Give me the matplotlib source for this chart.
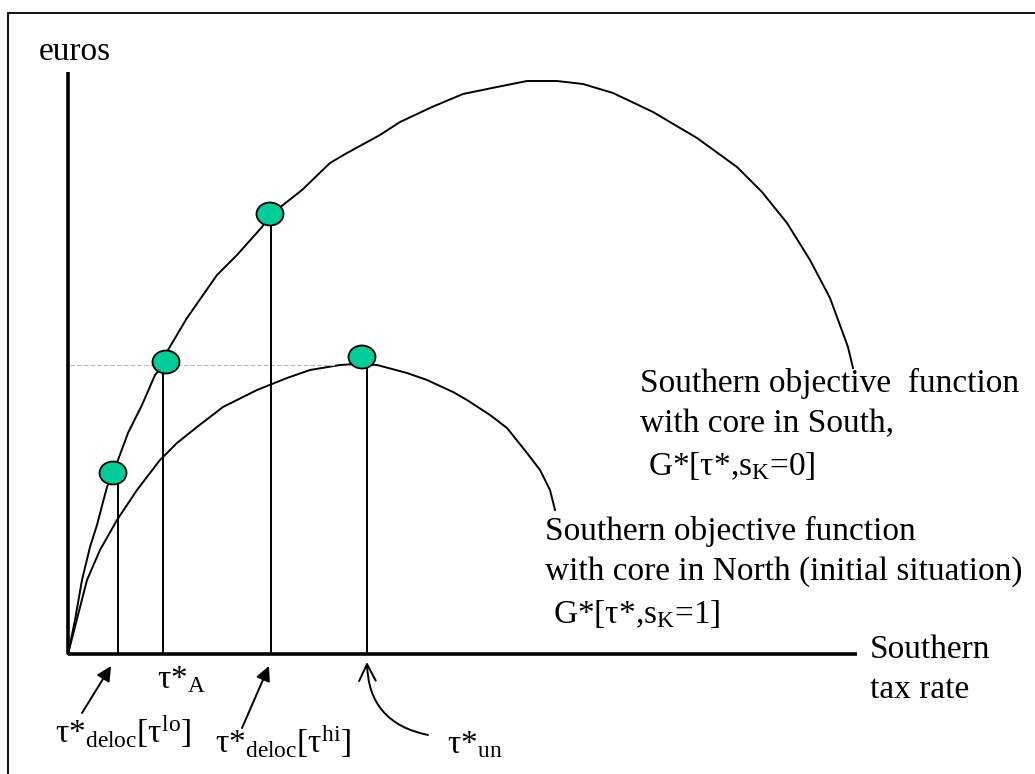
"""
Southern objective functions with core in South / North.

Run:
    python plot.py
"""
import matplotlib

matplotlib.use("Agg")
import matplotlib.pyplot as plt
from matplotlib.patches import Ellipse, Rectangle

# tax rate / euros in drawing units, origin at the axes corner
core_south_tax = [0, 7, 14, 22, 29, 35, 39, 45, 50, 60, 74, 87, 98, 100, 119, 149, 169, 194,
                  202, 215, 234, 262, 279, 312, 332, 364, 395, 429, 459, 489, 515, 545, 585,
                  629, 669, 694, 719, 742, 762, 780, 785]
core_south_euros = [0, 34, 74, 107, 129, 152, 167, 181, 194, 221, 249, 279, 292, 304, 336, 379,
                    399, 427, 440, 449, 464, 491, 501, 519, 532, 547, 560, 567, 573, 573, 570,
                    561, 542, 516, 487, 462, 431, 394, 356, 307, 286]

core_north_tax = [0, 19, 32, 49, 69, 92, 109, 129, 155, 189, 219, 242, 272, 287, 309, 339, 359,
                  385, 399, 422, 439, 459, 472, 482, 487]
core_north_euros = [0, 74, 104, 134, 164, 194, 211, 227, 247, 264, 276, 284, 289, 290, 289, 281,
                    274, 262, 254, 239, 226, 201, 184, 164, 144]

dot_tax = [45, 98, 202, 294]
dot_euros = [181, 292, 440, 297]
drop_tax = [50, 95, 203, 299]

ref_level = 289
ref_end = 267
y_axis_top = 582
x_axis_end = 789

DOT_COLOR = "#00cc99"
FONT = "Liberation Serif"
FS = 24

plt.rcParams["font.family"] = [FONT, "DejaVu Serif"]
plt.rcParams["mathtext.fontset"] = "custom"
plt.rcParams["mathtext.rm"] = FONT
plt.rcParams["mathtext.it"] = FONT + ":italic"

fig = plt.figure(figsize=(10.35, 7.74), dpi=100)
ax = fig.add_axes([0, 0, 1, 1])
ax.set_xlim(-68, 967)
ax.set_ylim(-120, 654)
ax.axis("off")

# outer frame (right/bottom edges fall outside the picture)
ax.add_patch(Rectangle((-60, -140), 1060, 781, fill=False, lw=1.3, color="black"))

# axes
ax.plot([0, 0], [0, y_axis_top], color="black", lw=2.6, solid_capstyle="butt")
ax.plot([0, x_axis_end], [0, 0], color="black", lw=2.6, solid_capstyle="butt")

# curves
ax.plot(core_south_tax, core_south_euros, color="black", lw=1.4)
ax.plot(core_north_tax, core_north_euros, color="black", lw=1.4)
ax.plot([2, ref_end], [ref_level, ref_level], color="#b5b5b5", lw=0.8, ls=(0, (4, 2)))

# drop lines and dots
for tx, dx, dy in zip(drop_tax, dot_tax, dot_euros):
    ax.plot([tx, tx], [0, dy], color="black", lw=1.4, zorder=2)
    ax.add_patch(Ellipse((dx, dy), 27, 23, facecolor=DOT_COLOR, edgecolor="black",
                         lw=1.3, zorder=3))

# labels
ax.text(-29, 594, "euros", fontsize=FS, va="baseline")
ax.text(572, 262, "Southern objective  function", fontsize=FS, va="baseline")
ax.text(572, 222, "with core in South,", fontsize=FS, va="baseline")
ax.text(580, 179, r"G*[τ*,s$_{\mathrm{K}}$=0]", fontsize=FS, va="baseline")
ax.text(477, 114, "Southern objective function", fontsize=FS, va="baseline")
ax.text(477, 74, "with core in North (initial situation)", fontsize=FS, va="baseline")
ax.text(485, 31, r"G*[τ*,s$_{\mathrm{K}}$=1]", fontsize=FS, va="baseline")
ax.text(802, -4, "Southern", fontsize=FS, va="baseline")
ax.text(802, -44, "tax rate", fontsize=FS, va="baseline")

ax.text(89, -34, r"τ*$_{\mathrm{A}}$", fontsize=FS, va="baseline")
ax.text(-13, -89, r"τ*$_{\mathrm{deloc}}$[τ$^{\mathrm{lo}}$]", fontsize=FS, va="baseline")
ax.text(147, -99, r"τ*$_{\mathrm{deloc}}$[τ$^{\mathrm{hi}}$]", fontsize=FS, va="baseline")
ax.text(379, -99, r"τ*$_{\mathrm{un}}$", fontsize=FS, va="baseline")

# arrows to the tax rates
solid_head = {"arrowstyle": "-|>", "color": "black", "lw": 1.4, "mutation_scale": 22,
              "shrinkA": 0, "shrinkB": 0}
ax.annotate("", xy=(43, -12), xytext=(14, -59), arrowprops=solid_head)
ax.annotate("", xy=(201, -12), xytext=(174, -74), arrowprops=solid_head)
ax.annotate("", xy=(299, -8), xytext=(360, -81),
            arrowprops={"arrowstyle": "->", "color": "black", "lw": 1.4,
                        "mutation_scale": 30, "shrinkA": 0, "shrinkB": 0,
                        "connectionstyle": "arc3,rad=-0.4"})

fig.savefig("out.png", dpi=100, facecolor="white")
print("Saved: out.png")
